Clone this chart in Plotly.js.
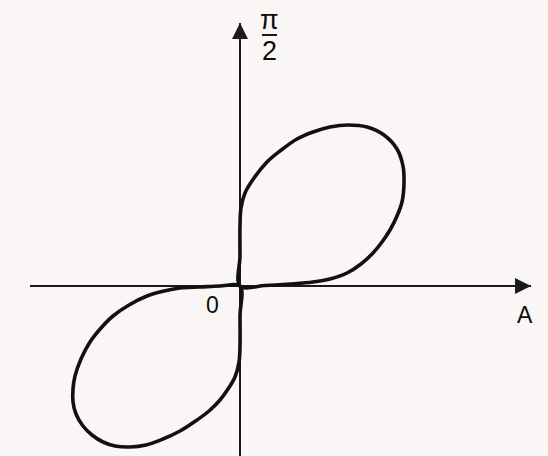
<!DOCTYPE html>
<html>
<head>
<meta charset="utf-8">
<script src="https://cdn.plot.ly/plotly-3.0.1.min.js"></script>
<style>
  html, body { margin: 0; padding: 0; background: #faf6f5; }
  #chart { width: 548px; height: 456px; }
</style>
</head>
<body>
<div id="chart"></div>
<script>
// Curve (units: 1 = 100 px, origin at axis crossing)
const upperLobeX = [0, 0, 0, 0.01, 0.05, 0.14, 0.27, 0.40, 0.57, 0.73, 0.90, 1.08, 1.27, 1.44, 1.57, 1.63, 1.64, 1.62, 1.57, 1.50, 1.42, 1.33, 1.21, 1.07, 0.90, 0.73, 0.50, 0.25, 0];
const upperLobeY = [0, 0.30, 0.60, 0.78, 0.93, 1.08, 1.24, 1.35, 1.47, 1.54, 1.59, 1.61, 1.59, 1.51, 1.37, 1.20, 1.03, 0.84, 0.70, 0.56, 0.44, 0.33, 0.22, 0.13, 0.07, 0.04, 0.02, 0.005, 0];
const lowerLobeX = [0, 0, 0, -0.01, -0.05, -0.12, -0.20, -0.31, -0.43, -0.60, -0.77, -0.94, -1.10, -1.25, -1.37, -1.48, -1.57, -1.64, -1.67, -1.67, -1.65, -1.59, -1.50, -1.39, -1.27, -1.11, -0.93, -0.76, -0.60, -0.40, -0.20, 0];
const lowerLobeY = [0, -0.30, -0.60, -0.76, -0.91, -1.03, -1.14, -1.25, -1.34, -1.45, -1.53, -1.59, -1.61, -1.60, -1.56, -1.49, -1.40, -1.28, -1.16, -1.03, -0.90, -0.73, -0.56, -0.42, -0.30, -0.19, -0.10, -0.05, -0.02, -0.01, 0, 0];

// axis extents
const xRange = [-2.10, 2.91];
const yRange = [-1.70, 2.63];

const curveStyle = { color: "#111", width: 3.6, shape: "spline", smoothing: 1 };

const traces = [
  { x: upperLobeX, y: upperLobeY, mode: "lines", line: curveStyle, hoverinfo: "skip" },
  { x: lowerLobeX, y: lowerLobeY, mode: "lines", line: curveStyle, hoverinfo: "skip" }
];

const labelFont = { family: "Liberation Sans, Arial, sans-serif", color: "#0d0d0d" };

const layout = {
  width: 548,
  height: 456,
  showlegend: false,
  margin: { l: 30, r: 17, t: 23, b: 0 },
  paper_bgcolor: "#faf6f5",
  plot_bgcolor: "rgba(0,0,0,0)",
  xaxis: {
    range: xRange,
    showgrid: false,
    showticklabels: false,
    ticks: "",
    zeroline: true,
    zerolinecolor: "#1a1a1a",
    zerolinewidth: 2.2,
    fixedrange: true
  },
  yaxis: {
    range: yRange,
    showgrid: false,
    showticklabels: false,
    ticks: "",
    zeroline: true,
    zerolinecolor: "#1a1a1a",
    zerolinewidth: 2.2,
    fixedrange: true
  },
  annotations: [
    // arrow heads
    { x: xRange[1], y: 0, ax: xRange[1] - 0.3, ay: 0, axref: "x", ayref: "y", xref: "x", yref: "y",
      text: "", showarrow: true, arrowhead: 2, arrowsize: 1.6, arrowwidth: 2, arrowcolor: "#1a1a1a" },
    { x: 0, y: yRange[1], ax: 0, ay: yRange[1] - 0.3, axref: "x", ayref: "y", xref: "x", yref: "y",
      text: "", showarrow: true, arrowhead: 2, arrowsize: 1.6, arrowwidth: 2, arrowcolor: "#1a1a1a" },
    // labels
    { x: -0.28, y: -0.19, xref: "x", yref: "y", text: "0", showarrow: false, font: { ...labelFont, size: 23 } },
    { x: 2.85, y: -0.29, xref: "x", yref: "y", text: "A", showarrow: false, font: { ...labelFont, size: 23 } },
    { x: 0.29, y: 1.0, xref: "x", yref: "paper", yanchor: "middle", yshift: 3, text: "π", showarrow: false,
      font: { ...labelFont, size: 27 } },
    { x: 0.29, y: 2.35, xref: "x", yref: "y", text: "2", showarrow: false, font: { ...labelFont, size: 27 } }
  ],
  shapes: [
    // fraction bar of π/2
    { type: "line", xref: "x", yref: "y", x0: 0.22, x1: 0.37, y0: 2.51, y1: 2.51,
      line: { color: "#1a1a1a", width: 2 } }
  ]
};

Plotly.newPlot("chart", traces, layout, { staticPlot: true, displayModeBar: false });
</script>
</body>
</html>
